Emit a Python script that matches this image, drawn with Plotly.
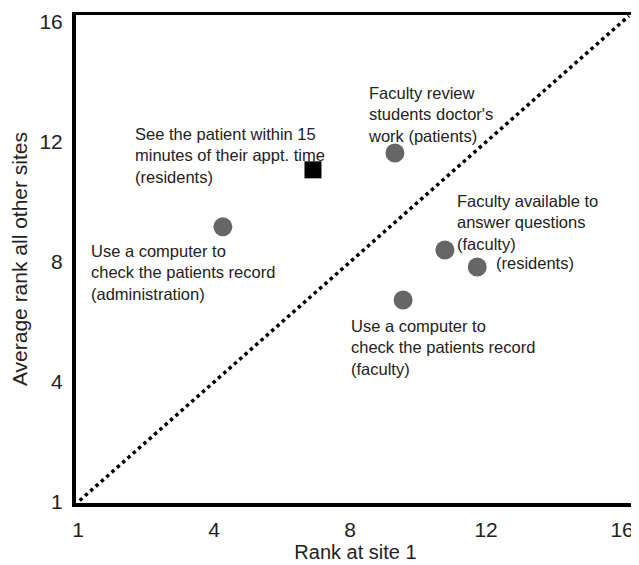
import plotly.graph_objects as go

# ---- data ----
circle_labels = [
    "Use a computer to check the patients record (administration)",
    "Faculty review students doctor's work (patients)",
    "Faculty available to answer questions (faculty)",
    "Faculty available to answer questions (residents)",
    "Use a computer to check the patients record (faculty)",
]
circle_x = [4.26, 9.32, 10.79, 11.74, 9.56]
circle_y = [9.17, 11.63, 8.40, 7.83, 6.73]

square_label = ["See the patient within 15 minutes of their appt. time (residents)"]
square_x = [6.91]
square_y = [11.07]

diag_x = [0.05, 16.2]
diag_y = [0.05, 16.2]

tick_vals = [0, 4, 8, 12, 16]
tick_text = ["1", "4", "8", "12", "16"]

# annotation texts with their anchor positions (data units)
note_text = [
    "See the patient within 15<br>minutes of their appt. time<br>(residents)",
    "Use a computer to<br>check the patients record<br>(administration)",
    "Faculty review<br>students doctor's<br>work (patients)",
    "Faculty available to<br>answer questions<br>(faculty)",
    "(residents)",
    "Use a computer to<br>check the patients record<br>(faculty)",
]
note_x = [1.71, 0.41, 8.56, 11.18, 12.32, 8.06]
note_y = [12.63, 8.73, 14.0, 10.4, 7.97, 6.23]
note_yanchor = ["top", "top", "top", "top", "middle", "top"]

FONT = "Liberation Sans, Arial, sans-serif"
TXT = "#222222"

fig = go.Figure()
fig.add_trace(go.Scatter(
    x=diag_x, y=diag_y, mode="lines",
    line=dict(color="black", width=3.5, dash="3.5px,3.6px"),
    hoverinfo="skip", showlegend=False))
fig.add_trace(go.Scatter(
    x=circle_x, y=circle_y, mode="markers", text=circle_labels,
    marker=dict(symbol="circle", size=19, color="#666666", line=dict(width=0)),
    showlegend=False))
fig.add_trace(go.Scatter(
    x=square_x, y=square_y, mode="markers", text=square_label,
    marker=dict(symbol="square", size=17, color="black", line=dict(width=0)),
    showlegend=False))

for t, x, y, ya in zip(note_text, note_x, note_y, note_yanchor):
    fig.add_annotation(x=x, y=y, text=t, showarrow=False, xanchor="left",
                       yanchor=ya, align="left", xshift=-3,
                       font=dict(family=FONT, size=16.5, color=TXT))

# the page body adds an 8px offset, so the figure is sized to fit after it
fig.update_layout(
    width=631, height=557,
    margin=dict(l=68, r=4, t=7, b=62),
    paper_bgcolor="white", plot_bgcolor="white",
    font=dict(family=FONT, color=TXT),
    xaxis=dict(range=[-0.059, 16.38], tickvals=tick_vals, ticktext=tick_text,
               automargin=False, ticklabelstandoff=5,
               showgrid=False, zeroline=False, showline=True, linecolor="black",
               linewidth=4, ticks="", tickfont=dict(size=21, color=TXT),
               title=dict(text="Rank at site 1", font=dict(size=20, color=TXT), standoff=5)),
    yaxis=dict(range=[-0.033, 16.23], tickvals=tick_vals, ticktext=tick_text,
               automargin=False, ticklabelstandoff=5,
               showgrid=False, zeroline=False, showline=True, linecolor="black",
               linewidth=4, ticks="", tickfont=dict(size=21, color=TXT),
               title=dict(text="Average rank all other sites", font=dict(size=21, color=TXT), standoff=14)),
    shapes=[
        dict(type="line", xref="paper", yref="paper", x0=-0.007, x1=1.0, y0=1.003, y1=1.003,
             line=dict(color="black", width=3)),
        dict(type="line", xref="paper", yref="paper", x0=1.002, x1=1.002, y0=-0.004, y1=1.003,
             line=dict(color="#3a3a3a", width=2)),
    ],
)

fig.write_html("out.html")
